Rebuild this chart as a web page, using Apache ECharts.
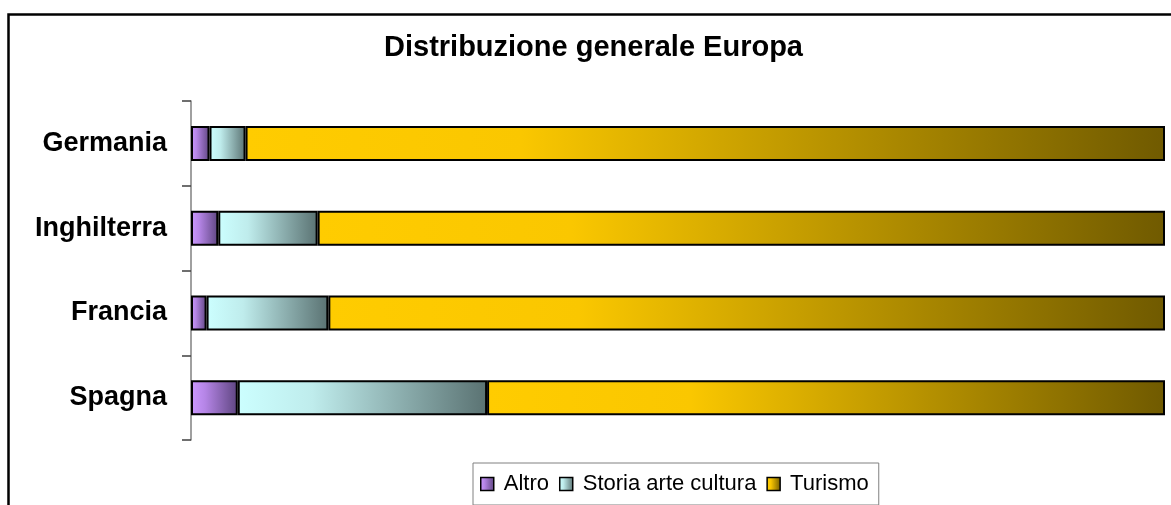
<!DOCTYPE html>
<html>
<head>
<meta charset="utf-8">
<title>Distribuzione generale Europa</title>
<script src="https://cdn.jsdelivr.net/npm/echarts@6/dist/echarts.min.js"></script>
<style>
  html, body { margin: 0; padding: 0; background: #fff; }
  #main { width: 1171px; height: 505px; }
</style>
</head>
<body>
<div id="main"></div>
<script>
// dati (percentuali)
var paesi = ['Germania', 'Inghilterra', 'Francia', 'Spagna']
var altro = [1.9, 2.8, 1.6, 4.8]
var storia = [3.7, 10.2, 12.5, 25.6]
var turismo = [94.4, 87.0, 85.9, 69.6]
var nomiSerie = ['Altro', 'Storia arte cultura', 'Turismo']

var font = "'Liberation Sans', Arial, sans-serif"

// gradiente orizzontale tipo Excel
function grad(c1, c2, c3) {
  return new echarts.graphic.LinearGradient(0, 0, 1, 0, [
    { offset: 0, color: c1 },
    { offset: 0.3, color: c2 },
    { offset: 1, color: c3 }
  ])
}

var colori = [
  grad('#cc99ff', '#b585e6', '#5e4580'),
  grad('#ccffff', '#bfecec', '#5a7272'),
  grad('#ffcc00', '#fac700', '#705a00')
]

var myChart = echarts.init(document.getElementById('main'))

function serie(nome, dati, i) {
  return {
    name: nome,
    type: 'bar',
    stack: 'tot',
    barWidth: 35,
    data: dati,
    itemStyle: {
      color: colori[i],
      borderColor: '#000',
      borderWidth: 2
    },
    emphasis: { disabled: true }
  }
}

var option = {
  animation: false,
  backgroundColor: '#fff',
  textStyle: { fontFamily: font },
  title: {
    text: 'Distribuzione generale Europa',
    left: 384,
    top: 33,
    padding: 0,
    textStyle: { fontSize: 29, fontWeight: 'bold', color: '#000', fontFamily: font }
  },
  graphic: [{
    type: 'rect',
    shape: { x: 8.5, y: 14.5, width: 1220, height: 600 },
    style: { fill: 'none', stroke: '#000', lineWidth: 2.5 },
    silent: true
  }],
  legend: {
    data: nomiSerie,
    left: 473,
    top: 463,
    padding: [10, 10, 10, 7],
    itemGap: 10,
    itemWidth: 13,
    itemHeight: 13,
    icon: 'rect',
    borderColor: '#808080',
    borderWidth: 1,
    itemStyle: { borderColor: '#000', borderWidth: 1.5 },
    textStyle: { fontSize: 22, color: '#000', fontFamily: font, padding: [0, 0, 0, 5] }
  },
  grid: {
    left: 191,
    right: 6,
    top: 101,
    bottom: 65,
    containLabel: false
  },
  xAxis: {
    type: 'value',
    min: 0,
    max: 100,
    show: false
  },
  yAxis: {
    type: 'category',
    inverse: true,
    data: paesi,
    axisLine: { lineStyle: { color: '#808080', width: 1.5 } },
    axisTick: { show: true, length: 9, lineStyle: { color: '#404040', width: 1.5 } },
    axisLabel: {
      margin: 24,
      fontSize: 27,
      fontWeight: 'bold',
      color: '#000',
      fontFamily: font
    }
  },
  series: [
    serie(nomiSerie[0], altro, 0),
    serie(nomiSerie[1], storia, 1),
    serie(nomiSerie[2], turismo, 2)
  ]
}

myChart.setOption(option)
</script>
</body>
</html>
